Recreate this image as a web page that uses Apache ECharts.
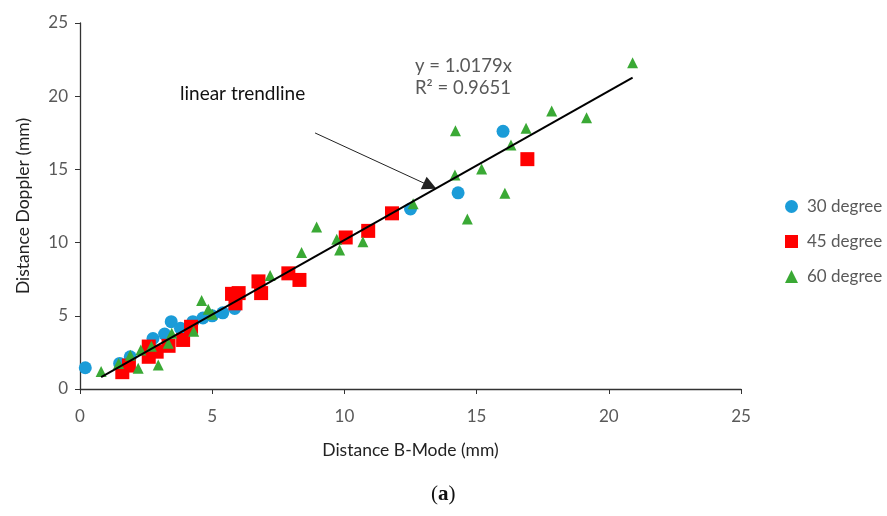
<!DOCTYPE html>
<html><head><meta charset="utf-8">
<script src="https://cdn.jsdelivr.net/npm/echarts@6/dist/echarts.min.js"></script>
<style>html,body{margin:0;padding:0;background:#fff}#c{width:887px;height:516px}</style>
</head><body><div id="c"></div>
<script>
const xTicks = [0, 5, 10, 15, 20, 25];
const yTicks = [0, 5, 10, 15, 20, 25];
const seriesNames = ['30 degree', '45 degree', '60 degree'];
const deg30 = [[0.2,1.45],[1.5,1.75],[1.9,2.2],[2.76,3.45],[3.2,3.75],[3.45,4.6],[3.8,4.15],[4.27,4.6],[4.65,4.85],[5.0,5.0],[5.4,5.2],[5.85,5.5],[12.5,12.3],[14.3,13.4],[16.0,17.6]];
const deg45 = [[1.6,1.15],[1.85,1.6],[2.6,2.9],[2.6,2.2],[2.9,2.55],[3.35,2.95],[3.9,3.35],[4.2,4.25],[5.75,6.5],[6.0,6.55],[5.88,5.85],[6.75,7.35],[6.85,6.55],[7.88,7.9],[8.3,7.45],[10.05,10.35],[10.9,10.8],[11.8,12.0],[16.92,15.7]];
const deg60 = [[0.8,1.2],[1.46,1.75],[1.9,2.3],[2.2,1.41],[2.3,2.66],[2.7,2.92],[2.96,1.64],[3.34,3.12],[3.47,3.8],[4.3,3.95],[4.6,6.05],[4.85,5.45],[5.0,5.1],[7.19,7.75],[8.38,9.33],[8.95,11.07],[9.71,10.23],[9.82,9.49],[10.7,10.06],[12.6,12.66],[14.2,17.64],[14.18,14.62],[14.65,11.61],[15.19,15.03],[16.07,13.37],[16.3,16.67],[16.87,17.81],[17.84,18.99],[19.16,18.53],[20.9,22.29]];
const trendline = [[0.8,0.81],[20.9,21.27]];
const arrowLine = [[8.89,17.49],[13.24,13.87]];
const eqText = 'y = 1.0179x';
const r2Text = 'R² = 0.9651';
const trendText = 'linear trendline';

const FONT = 'Lato';
const chart = echarts.init(document.getElementById('c'));
chart.setOption({
  animation: false,
  backgroundColor: '#fff',
  textStyle: {fontFamily: FONT},
  grid: {left: 80, right: 146, top: 23, bottom: 127},
  xAxis: {
    type: 'value', min: 0, max: 25, interval: 5,
    name: 'Distance B-Mode (mm)', nameLocation: 'middle', nameGap: 52,
    nameTextStyle: {fontSize: 17.5, color: '#222', fontFamily: FONT},
    axisLine: {lineStyle: {color: '#333', width: 1.3}},
    axisTick: {show: true, length: 5, lineStyle: {color: '#333'}},
    axisLabel: {fontSize: 17, color: '#595959', margin: 19, fontFamily: FONT,
      formatter: v => xTicks.includes(v) ? String(v) : ''},
    splitLine: {show: false}
  },
  yAxis: {
    type: 'value', min: 0, max: 25, interval: 5,
    name: 'Distance Doppler (mm)', nameLocation: 'middle', nameGap: 48,
    nameTextStyle: {fontSize: 17.5, color: '#222', fontFamily: FONT},
    axisLine: {show: true, lineStyle: {color: '#333', width: 1.3}},
    axisTick: {show: true, length: 5, lineStyle: {color: '#333'}},
    axisLabel: {fontSize: 17, color: '#595959', margin: 12, fontFamily: FONT,
      formatter: v => yTicks.includes(v) ? String(v) : ''},
    splitLine: {show: false}
  },
  legend: {
    orient: 'vertical', left: 780, top: 193, itemGap: 18,
    itemWidth: 13, itemHeight: 13,
    textStyle: {fontSize: 17, color: '#595959', fontFamily: FONT, padding: [0, 0, 0, 4]},
    data: [
      {name: seriesNames[0], icon: 'circle'},
      {name: seriesNames[1], icon: 'rect'},
      {name: seriesNames[2], icon: 'triangle'}
    ]
  },
  series: [
    {name: seriesNames[0], type: 'scatter', data: deg30, symbol: 'circle', symbolSize: 13,
      itemStyle: {color: '#1B9CD8', opacity: 1}, z: 3},
    {name: seriesNames[1], type: 'scatter', data: deg45, symbol: 'rect', symbolSize: 14,
      itemStyle: {color: '#FF0000', opacity: 1}, z: 4},
    {name: seriesNames[2], type: 'scatter', data: deg60, symbol: 'triangle', symbolSize: 11,
      itemStyle: {color: '#3AA935', opacity: 1}, z: 5},
    {name: 'trend', type: 'line', data: trendline, symbol: 'none', z: 6,
      lineStyle: {color: '#000', width: 2}, silent: true,
      markLine: {
        silent: true, symbol: ['none', 'triangle'], symbolSize: [14, 14],
        label: {show: false},
        lineStyle: {color: '#222', width: 1, type: 'solid'},
        data: [[{coord: arrowLine[0]}, {coord: arrowLine[1]}]]
      }
    }
  ],
  graphic: [
    {type: 'text', left: 415, top: 57, style: {text: eqText, fontSize: 18.5, fill: '#595959', fontFamily: FONT}},
    {type: 'text', left: 415, top: 79, style: {text: r2Text, fontSize: 18.5, fill: '#595959', fontFamily: FONT}},
    {type: 'text', left: 180, top: 84, style: {text: trendText, fontSize: 19, fill: '#111', fontFamily: FONT}},
    {type: 'text', left: 431, top: 484, style: {
      text: '({b|a})', fontSize: 21, fill: '#111', fontFamily: 'Liberation Serif',
      rich: {b: {fontWeight: 'bold', fontSize: 21, fill: '#111', fontFamily: 'Liberation Serif'}}}}
  ]
});
</script>
</body></html>
